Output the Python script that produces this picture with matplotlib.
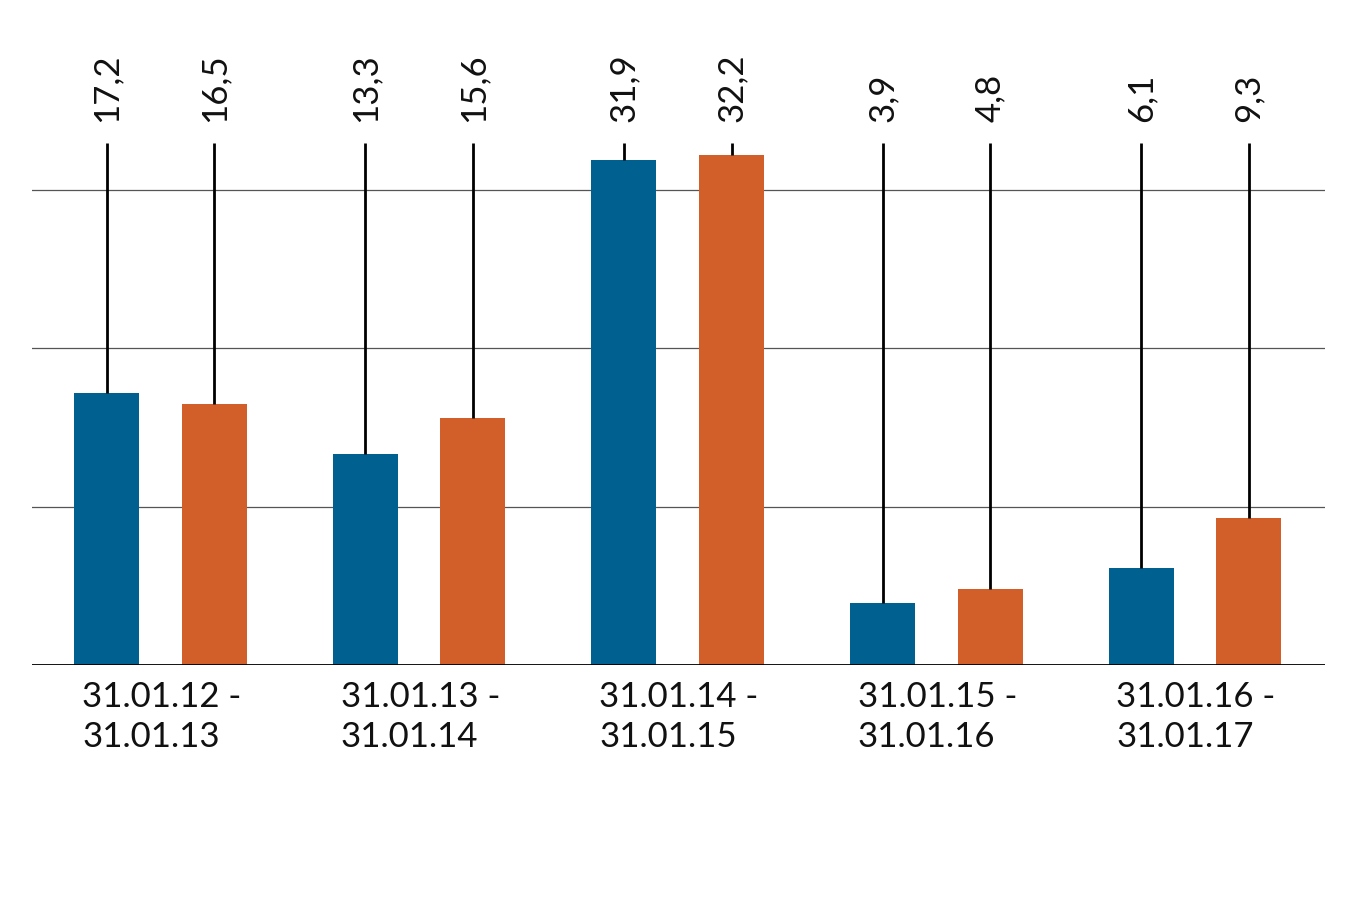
import matplotlib
matplotlib.use("Agg")
import matplotlib.pyplot as plt
import numpy as np

categories = ["31.01.12 -\n31.01.13", "31.01.13 -\n31.01.14", "31.01.14 -\n31.01.15",
              "31.01.15 -\n31.01.16", "31.01.16 -\n31.01.17"]
series_a = [17.2, 13.3, 31.9, 3.9, 6.1]
series_b = [16.5, 15.6, 32.2, 4.8, 9.3]
label_a = ["17,2", "13,3", "31,9", "3,9", "6,1"]
label_b = ["16,5", "15,6", "32,2", "4,8", "9,3"]

plt.rcParams['font.family'] = ['Lato', 'DejaVu Sans']

fig = plt.figure(figsize=(13.5, 9), dpi=100)
ax = fig.add_axes([32/1350, 1 - 665/900, (1325-32)/1350, 633.3/900])

x = np.arange(len(categories))
off = 0.208
w = 0.251
blue = "#006090"
orange = "#d25f2a"

ax.bar(x - off, series_a, width=w, color=blue, zorder=3)
ax.bar(x + off, series_b, width=w, color=orange, zorder=3)

line_top = 33.0
lab_y = 34.3
for xi, v, t in zip(x - off, series_a, label_a):
    ax.plot([xi, xi], [v, line_top], color="black", lw=2, zorder=4, solid_capstyle='butt')
    ax.text(xi, lab_y, t, rotation=90, ha='center', va='bottom', fontsize=25, color="#111111")
for xi, v, t in zip(x + off, series_b, label_b):
    ax.plot([xi, xi], [v, line_top], color="black", lw=2, zorder=4, solid_capstyle='butt')
    ax.text(xi, lab_y, t, rotation=90, ha='center', va='bottom', fontsize=25, color="#111111")

for g in [10, 20, 30]:
    ax.axhline(g, color="#555555", lw=0.9, zorder=1)
ax.axhline(0, color="black", lw=1.3, zorder=5)

for xi, c in zip(x - off - w/2 + 0.03, categories):
    ax.text(xi, -1.0, c, ha='left', va='top', fontsize=25, color="#111111", linespacing=1.3)

ax.set_xlim(-0.497, 4.503)
ax.set_ylim(0, 40)
ax.axis('off')

fig.savefig("out.png", dpi=100)
